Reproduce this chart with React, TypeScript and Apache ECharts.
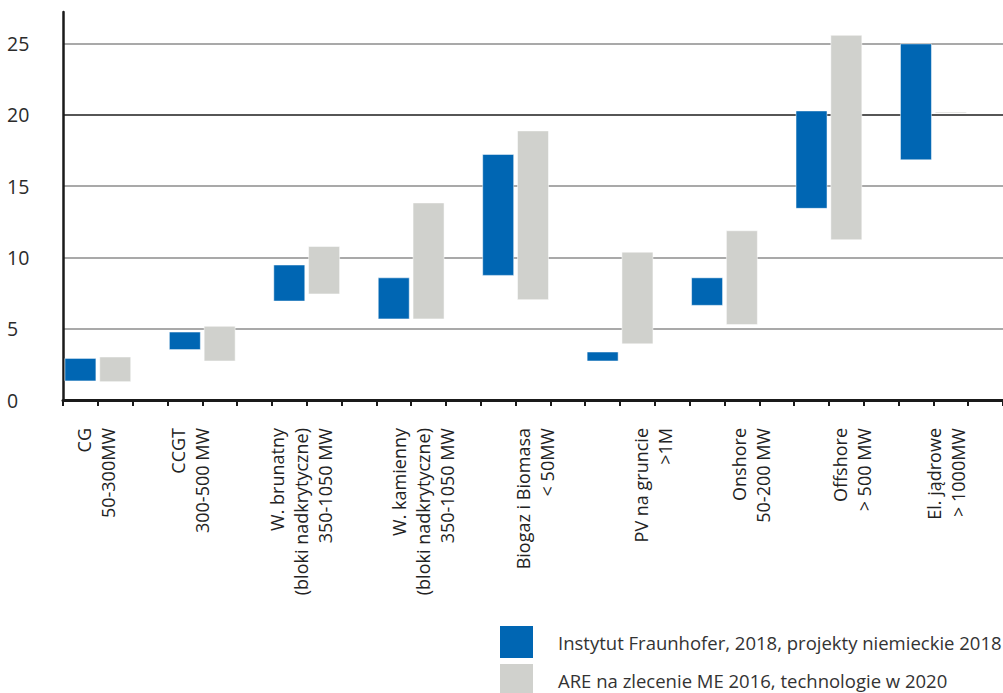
import { useEffect, useRef } from 'react';
import * as echarts from 'echarts';

// ---- data ----
const categories = [
  'CG\n50-300MW',
  'CCGT\n300-500 MW',
  'W. brunatny\n(bloki nadkrytyczne)\n350-1050 MW',
  'W. kamienny\n(bloki nadkrytyczne)\n350-1050 MW',
  'Biogaz i Biomasa\n< 50MW',
  'PV na gruncie\n>1M',
  'Onshore\n50-200 MW',
  'Offshore\n> 500 MW',
  'El. jądrowe\n> 1000MW',
];
// position of each category label on a fine (1/10 slot) label axis
const labelSlots = [9, 36, 68, 103, 135, 169, 197, 226, 253];

const seriesNames = [
  'Instytut Fraunhofer, 2018, projekty niemieckie 2018',
  'ARE na zlecenie ME 2016, technologie w 2020',
];
const fraunhoferLow = [1.3, 3.5, 6.9, 5.65, 8.7, 2.7, 6.6, 13.4, 16.8];
const fraunhoferHigh = [2.95, 4.8, 9.5, 8.6, 17.25, 3.4, 8.6, 20.3, 25.0];
const areLow = [1.25, 2.7, 7.4, 5.65, 7.0, 3.9, 5.25, 11.2, 20.08];
const areHigh = [3.05, 5.2, 10.8, 13.85, 18.9, 10.4, 11.9, 25.6, 20.22];

const yMin = 0;
const yMax = 27.2;
const yInterval = 5;

// ---- layout helpers ----
const SLOTS = categories.length * 3; // blue, grey, gap per group
const FINE = 10;

const BLUE = '#0066b3';
const GREY = '#d0d1cd';
const FONT = 'Open Sans';

export default function App() {
  const ref = useRef<HTMLDivElement>(null);

  useEffect(() => {
    if (!ref.current) return;
    const chart = echarts.init(ref.current, undefined, { renderer: 'svg' });

    const slotData = Array.from({ length: SLOTS }, () => '');
    const base: (number | string)[] = Array.from({ length: SLOTS }, () => '-');
    const fBar: (number | string)[] = Array.from({ length: SLOTS }, () => '-');
    const aBar: (number | string)[] = Array.from({ length: SLOTS }, () => '-');
    categories.forEach((_, g) => {
      base[3 * g] = fraunhoferLow[g];
      fBar[3 * g] = +(fraunhoferHigh[g] - fraunhoferLow[g]).toFixed(4);
      base[3 * g + 1] = areLow[g];
      aBar[3 * g + 1] = +(areHigh[g] - areLow[g]).toFixed(4);
    });

    const fineLabels = Array.from({ length: SLOTS * FINE }, () => '');
    labelSlots.forEach((idx, g) => {
      fineLabels[idx] = categories[g];
    });

    const barStyle = (color: string) => ({
      color,
      borderColor: 'rgba(255,255,255,0.5)',
      borderWidth: 1,
    });

    chart.setOption({
      animation: false,
      textStyle: { fontFamily: FONT },
      grid: { left: 63, top: 12, width: 945, height: 388 },
      legend: {
        data: seriesNames,
        orient: 'vertical',
        left: 500,
        top: 626,
        height: 120,
        padding: 0,
        itemWidth: 33,
        itemHeight: 32,
        itemGap: 6,
        icon: 'rect',
        itemStyle: { borderWidth: 0 },
        textStyle: {
          fontFamily: FONT,
          fontSize: 18.5,
          color: '#333',
          padding: [0, 0, 0, 20],
        },
        selectedMode: false,
      },
      xAxis: [
        {
          type: 'category',
          data: slotData,
          boundaryGap: true,
          axisLine: { show: true, lineStyle: { color: '#1a1a1a', width: 3 } },
          axisTick: {
            show: true,
            interval: 0,
            length: 6,
            lineStyle: { color: '#1a1a1a', width: 2 },
          },
          axisLabel: { show: false },
          splitLine: { show: false },
        },
        {
          type: 'category',
          data: fineLabels,
          position: 'bottom',
          boundaryGap: true,
          axisLine: { show: false },
          axisTick: { show: false },
          splitLine: { show: false },
          axisLabel: {
            interval: 0,
            rotate: 90,
            margin: 28,
            fontFamily: FONT,
            fontSize: 18,
            lineHeight: 24,
            color: '#222',
          },
        },
      ],
      yAxis: {
        type: 'value',
        min: yMin,
        max: yMax,
        interval: yInterval,
        axisLine: { show: true, lineStyle: { color: '#1a1a1a', width: 2.5 } },
        axisTick: { show: false },
        axisLabel: {
          showMaxLabel: false,
          align: 'left',
          margin: 56,
          fontFamily: FONT,
          fontSize: 19.5,
          color: '#2b2b2b',
        },
        splitLine: {
          show: true,
          showMinLine: false,
          showMaxLine: false,
          lineStyle: {
            color: ['#8c8c8c', '#8c8c8c', '#8c8c8c', '#1e1e1e', '#8c8c8c'],
            width: 1.5,
          },
        },
      },
      series: [
        {
          name: 'base',
          type: 'bar',
          stack: 'range',
          barWidth: 32,
          silent: true,
          itemStyle: { color: 'transparent', borderWidth: 0 },
          data: base,
        },
        {
          name: seriesNames[0],
          type: 'bar',
          stack: 'range',
          barWidth: 32,
          itemStyle: barStyle(BLUE),
          data: fBar,
        },
        {
          name: seriesNames[1],
          type: 'bar',
          stack: 'range',
          barWidth: 32,
          itemStyle: barStyle(GREY),
          data: aBar,
        },
      ],
    });

    return () => chart.dispose();
  }, []);

  return (
    <div
      ref={ref}
      style={{ position: 'fixed', left: 0, top: 0, width: 1003, height: 693, background: '#fff' }}
    />
  );
}
